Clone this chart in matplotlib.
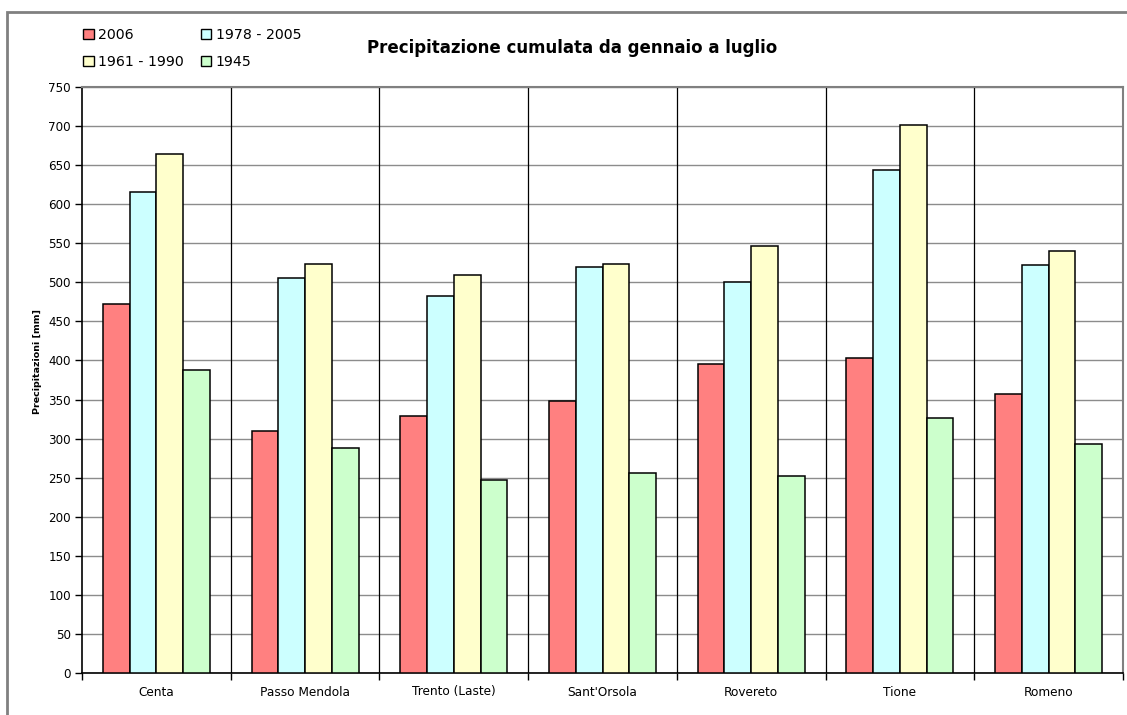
import numpy as np
import matplotlib
matplotlib.use("Agg")
import matplotlib.pyplot as plt
from matplotlib.patches import Rectangle, Patch

# Data
stations = ["Centa", "Passo Mendola", "Trento (Laste)", "Sant'Orsola",
            "Rovereto", "Tione", "Romeno"]
p2006 = [472, 310, 329, 348, 395, 403, 357]
p1978_2005 = [616, 506, 482, 519, 500, 644, 522]
p1961_1990 = [664, 523, 509, 523, 546, 702, 540]
p1945 = [388, 288, 247, 256, 252, 327, 293]
series_labels = ["2006", "1978 - 2005", "1961 - 1990", "1945"]
series_colors = ["#FF8080", "#CCFFFF", "#FFFFCC", "#CCFFCC"]
yticks = np.arange(0, 751, 50)

W, H = 1127, 715
fig = plt.figure(figsize=(W / 100, H / 100), dpi=100)

# outer chart frame (only top/left visible in the picture)
fig.patches.append(Rectangle((7 / W, -0.1), 1.2, 1 - 12 / H + 0.1,
                             transform=fig.transFigure, fill=False,
                             edgecolor="#808080", linewidth=2))

ax = fig.add_axes([82 / W, (H - 673) / H, (1123 - 82) / W, (673 - 87) / H])

x = np.arange(len(stations))
bw = 0.18
offsets = [-1.5 * bw, -0.5 * bw, 0.5 * bw, 1.5 * bw]
all_series = [p2006, p1978_2005, p1961_1990, p1945]
for vals, off, col, lab in zip(all_series, offsets, series_colors, series_labels):
    ax.bar(x + off, vals, width=bw, color=col, edgecolor="black",
           linewidth=1.1, label=lab, zorder=3)

ax.set_xlim(-0.5, len(stations) - 0.5)
ax.set_ylim(0, 750)
ax.set_yticks(yticks)
ax.yaxis.grid(True, color="#8c8c8c", linewidth=1.0, zorder=0)
ax.set_axisbelow(True)

# category separators
for b in np.arange(0.5, len(stations) - 0.5, 1):
    ax.axvline(b, color="black", linewidth=0.9, zorder=1)

# ticks at the boundaries, labels at the centers
ax.set_xticks(np.arange(-0.5, len(stations), 1))
ax.set_xticklabels([])
ax.set_xticks(x, minor=True)
ax.set_xticklabels(stations, minor=True, fontsize=8.7)
ax.tick_params(axis="x", which="minor", length=0, pad=9)
ax.tick_params(axis="x", which="major", direction="out", length=5, width=1)
ax.tick_params(axis="y", direction="out", length=5, width=1, labelsize=8.6, pad=3)

for s in ["left", "bottom"]:
    ax.spines[s].set_color("black")
    ax.spines[s].set_linewidth(1.2)
for s in ["top", "right"]:
    ax.spines[s].set_color("#808080")
    ax.spines[s].set_linewidth(1.5)

fig.text(38 / W, 1 - 362 / H, "Precipitazioni [mm]", rotation=90,
         fontsize=6.8, fontweight="bold", ha="center", va="center")
fig.text(572 / W, 1 - 48 / H, "Precipitazione cumulata da gennaio a luglio",
         fontsize=12, fontweight="bold", ha="center", va="center")

# legend, ordered so rows read 2006 / 1978-2005, 1961-1990 / 1945
handles = [Patch(facecolor=c, edgecolor="black", linewidth=1) for c in series_colors]
order = [0, 2, 1, 3]
fig.legend([handles[i] for i in order], [series_labels[i] for i in order],
           ncol=2, loc="upper left", bbox_to_anchor=(83 / W, 1 - 28 / H),
           frameon=False, fontsize=10.2, handlelength=0.75, handleheight=0.75,
           handletextpad=0.3, columnspacing=1.2, labelspacing=0.9,
           borderpad=0, borderaxespad=0)

fig.savefig("out.png", dpi=100)
